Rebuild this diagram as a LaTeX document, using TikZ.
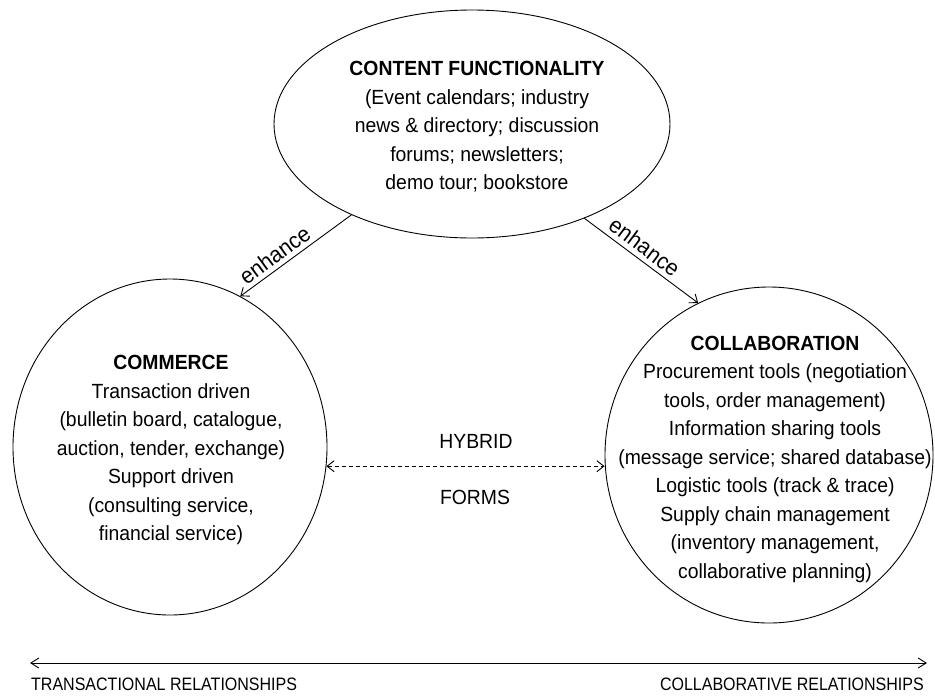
\documentclass[tikz,border=0pt]{standalone}
\usepackage{fontspec}
\setmainfont{Liberation Sans}[FakeStretch=0.945]
\newfontfamily\narrowfont{Liberation Sans}[FakeStretch=0.89]
\usetikzlibrary{shapes.geometric,arrows.meta}
\begin{document}
\begin{tikzpicture}[x=1pt,y=-1pt,
  every node/.style={inner sep=0pt},
  bubble/.style={draw, ellipse, line width=0.9pt, inner sep=0pt},
  body/.style={align=center, font=\fontsize{20.5}{28.5}\selectfont},
  small/.style={font=\narrowfont\fontsize{18}{21}\selectfont},
  arr/.style={line width=0.9pt, -{Straight Barb[length=7pt,width=11pt]}},
  dasharr/.style={line width=0.9pt, dash pattern=on 4pt off 3pt, {Straight Barb[length=7pt,width=11pt]}-{Straight Barb[length=7pt,width=11pt]}},
  twoway/.style={line width=0.9pt, {Straight Barb[length=8pt,width=10pt]}-{Straight Barb[length=8pt,width=10pt]}},
  enh/.style={sloped, above=4.5pt, font=\fontsize{22.5}{24}\selectfont}
]
\fill[white] (0,0) rectangle (935,697);
\useasboundingbox (0,0) rectangle (935,697);

\node[bubble, minimum width=396pt, minimum height=228pt] (content) at (472,124) {};
\node[bubble, minimum width=314pt, minimum height=336pt] (commerce) at (170,447) {};
\node[bubble, minimum width=328pt, minimum height=336pt] (collab) at (769,455) {};

\node[body] (contenttext) at (477,127) {\textbf{CONTENT FUNCTIONALITY}\\(Event calendars; industry\\news \& directory; discussion\\forums; newsletters;\\demo tour; bookstore};

\node[body] (commercetext) at (171,450) {\textbf{COMMERCE}\\Transaction driven\\(bulletin board, catalogue,\\auction, tender, exchange)\\Support driven\\(consulting service,\\financial service)};

\node[body] (collabtext) at (775,459) {\textbf{COLLABORATION}\\Procurement tools (negotiation\\tools, order management)\\Information sharing tools\\(message service; shared database)\\Logistic tools (track \& trace)\\Supply chain management\\(inventory management,\\collaborative planning)};

\draw[arr] (content.217) -- node[enh, pos=0.62] (enhL) {enhance} (commerce.65);
\draw[arr] (content.-40) -- node[enh, pos=0.46] (enhR) {enhance} (collab.115.7);

\draw[dasharr] (commerce.-7) -- (commerce.-7 -| collab.west);
\node[body] (hybrid) at (476,441) {HYBRID};
\node[body] (forms) at (475,497) {FORMS};

\coordinate (bl) at (30,663);
\coordinate (br) at (927,663);
\draw[twoway] (bl) -- (br);
\node[small, anchor=west] (trans) at (31,684) {TRANSACTIONAL RELATIONSHIPS};
\node[small, anchor=east] (colrel) at (924,684) {COLLABORATIVE RELATIONSHIPS};
\end{tikzpicture}
\end{document}
